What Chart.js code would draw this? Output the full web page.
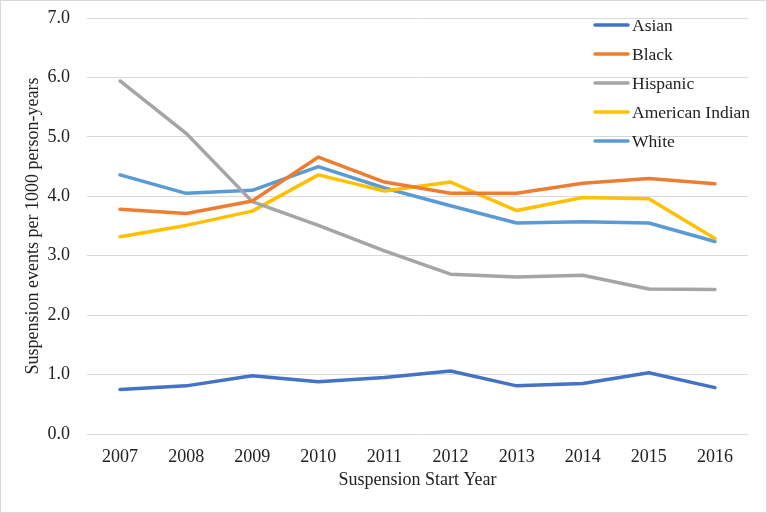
<!DOCTYPE html>
<html>
<head>
<meta charset="utf-8">
<script src="https://cdn.jsdelivr.net/npm/chart.js@4"></script>
<style>
  html, body { margin: 0; padding: 0; background: #fff; }
  #wrap { width: 767px; height: 513px; box-sizing: border-box; border: 1px solid #d9d9d9; }
</style>
</head>
<body>
<div id="wrap"><canvas id="myChart" width="765" height="511"></canvas></div>
<script>
const years = ['2007', '2008', '2009', '2010', '2011', '2012', '2013', '2014', '2015', '2016'];

const asian = [0.75, 0.81, 0.98, 0.88, 0.95, 1.06, 0.81, 0.85, 1.03, 0.78];
const black = [3.78, 3.71, 3.92, 4.66, 4.24, 4.05, 4.05, 4.22, 4.30, 4.21];
const hispanic = [5.94, 5.06, 3.91, 3.51, 3.08, 2.69, 2.64, 2.67, 2.44, 2.43];
const americanIndian = [3.32, 3.51, 3.75, 4.36, 4.09, 4.24, 3.76, 3.98, 3.96, 3.29];
const white = [4.36, 4.05, 4.10, 4.50, 4.14, 3.84, 3.55, 3.57, 3.55, 3.24];

const seriesNames = ['Asian', 'Black', 'Hispanic', 'American Indian', 'White'];
const seriesColors = ['#4472C4', '#ED7D31', '#A5A5A5', '#FFC000', '#5B9BD5'];

const font = 'Liberation Serif';
const textColor = '#222';

// legend drawn inside the plot, top right
const insideLegend = {
    id: 'insideLegend',
    afterDraw(chart) {
        const c = chart.ctx;
        const area = chart.chartArea;
        c.save();
        c.font = '17.5px "' + font + '"';
        c.textBaseline = 'middle';
        c.textAlign = 'left';
        chart.data.datasets.forEach((ds, i) => {
            const y = area.top + 7 + i * 29;
            c.strokeStyle = ds.borderColor;
            c.lineWidth = 3.5;
            c.lineCap = 'round';
            c.beginPath();
            c.moveTo(area.right - 153, y);
            c.lineTo(area.right - 120, y);
            c.stroke();
            c.fillStyle = textColor;
            c.fillText(ds.label, area.right - 116, y + 1);
        });
        c.restore();
    }
};

const ctx = document.getElementById('myChart');
const seriesData = [asian, black, hispanic, americanIndian, white];

new Chart(ctx, {
    type: 'line',
    data: {
        labels: years,
        datasets: seriesNames.map((name, i) => ({
            label: name,
            data: seriesData[i],
            borderColor: seriesColors[i],
            backgroundColor: seriesColors[i],
            borderWidth: 3.5,
            pointRadius: 0,
            tension: 0,
            borderCapStyle: 'round',
            borderJoinStyle: 'round'
        }))
    },
    options: {
        responsive: false,
        animation: false,
        layout: {
            padding: { left: 21, right: 18, top: 17, bottom: 21 }
        },
        plugins: {
            legend: { display: false },
            tooltip: { enabled: false }
        },
        scales: {
            x: {
                offset: true,
                grid: { display: false, drawTicks: false },
                border: { display: false },
                ticks: {
                    padding: 12,
                    color: textColor,
                    font: { family: font, size: 18 }
                },
                title: {
                    display: true,
                    text: 'Suspension Start Year',
                    color: textColor,
                    padding: 0,
                    font: { family: font, size: 18 }
                },
                afterFit(scale) { scale.height = 57; }
            },
            y: {
                min: 0,
                max: 7,
                grid: { color: '#d9d9d9', lineWidth: 1, drawTicks: false },
                border: { display: false },
                ticks: {
                    stepSize: 1,
                    padding: 17,
                    color: textColor,
                    font: { family: font, size: 18 },
                    callback: (v) => v.toFixed(1)
                },
                title: {
                    display: true,
                    text: 'Suspension events per 1000 person-years',
                    color: textColor,
                    padding: 0,
                    font: { family: font, size: 18 }
                },
                afterFit(scale) {
                    scale.width = 65;
                    scale.paddingTop = 0;
                    scale.paddingBottom = 0;
                }
            }
        }
    },
    plugins: [insideLegend]
});
</script>
</body>
</html>
